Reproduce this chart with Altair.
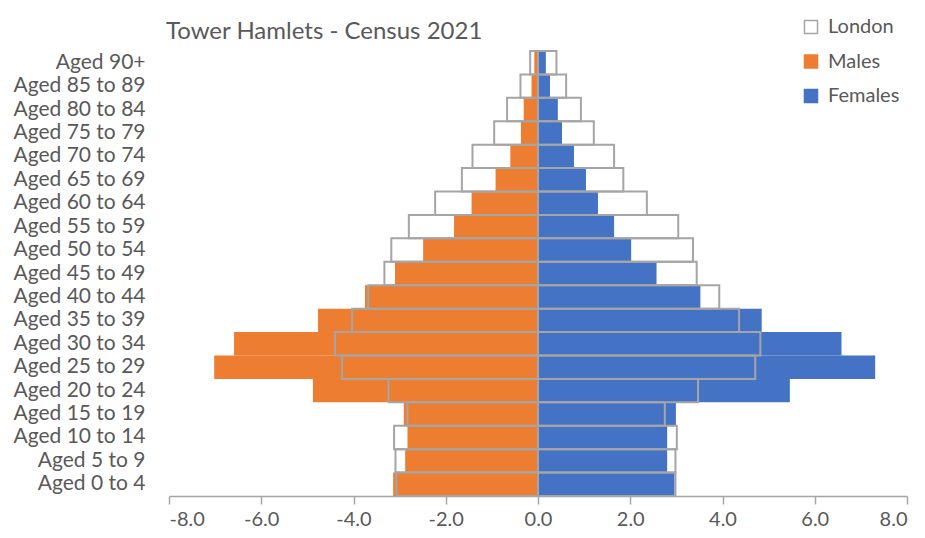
import altair as alt
import pandas as pd

ages = ["Aged 0 to 4", "Aged 5 to 9", "Aged 10 to 14", "Aged 15 to 19", "Aged 20 to 24",
        "Aged 25 to 29", "Aged 30 to 34", "Aged 35 to 39", "Aged 40 to 44", "Aged 45 to 49",
        "Aged 50 to 54", "Aged 55 to 59", "Aged 60 to 64", "Aged 65 to 69", "Aged 70 to 74",
        "Aged 75 to 79", "Aged 80 to 84", "Aged 85 to 89", "Aged 90+"]
males = [3.14, 2.88, 2.83, 2.91, 4.88, 7.02, 6.59, 4.77, 3.75, 3.10, 2.49, 1.82, 1.44, 0.92, 0.60, 0.37, 0.31, 0.14, 0.08]
females = [2.96, 2.80, 2.80, 2.99, 5.46, 7.31, 6.58, 4.85, 3.52, 2.57, 2.02, 1.65, 1.30, 1.04, 0.78, 0.52, 0.43, 0.26, 0.17]
london_m = [3.07, 3.09, 3.12, 2.83, 3.24, 4.25, 4.40, 4.03, 3.68, 3.33, 3.18, 2.80, 2.23, 1.65, 1.42, 0.95, 0.67, 0.38, 0.17]
london_f = [2.98, 2.98, 3.01, 2.75, 3.47, 4.71, 4.82, 4.36, 3.93, 3.44, 3.36, 3.04, 2.36, 1.85, 1.65, 1.21, 0.93, 0.61, 0.40]
series = ["London", "Males", "Females"]
x_ticks = [-8, -6, -4, -2, 0, 2, 4, 6, 8]
title_text = ["Tower Hamlets - Census 2021"]

th_rows, ld_rows = [], []
for a, m, f, lm, lf in zip(ages, males, females, london_m, london_f):
    th_rows.append({"age": a, "series": "Males", "start": -m, "end": 0})
    th_rows.append({"age": a, "series": "Females", "start": 0, "end": f})
    ld_rows.append({"age": a, "series": "London", "start": -lm, "end": 0})
    ld_rows.append({"age": a, "series": "London", "start": 0, "end": lf})
th = pd.DataFrame(th_rows)
ld = pd.DataFrame(ld_rows)

FONT = "Lato"
GREY = "#595959"

fill_scale = alt.Scale(domain=series, range=["#FFFFFF", "#ED7D31", "#4472C4"])
stroke_scale = alt.Scale(domain=series, range=["#A5A5A5", "#ED7D31", "#4472C4"])

x_enc = alt.X("start:Q", scale=alt.Scale(domain=[-8, 8], nice=False),
              axis=alt.Axis(values=x_ticks, title=None, grid=False,
                            labelExpr="datum.value < 0 ? '-' + format(-datum.value, '.1f') : format(datum.value, '.1f')",
                            domainColor="#A5A5A5", domainWidth=1.5, tickColor="#A5A5A5",
                            tickWidth=1.5, tickSize=8, labelPadding=5, labelFontSize=20))
y_enc = alt.Y("age:N", sort=list(reversed(ages)),
              scale=alt.Scale(paddingInner=0, paddingOuter=0),
              axis=alt.Axis(title=None, ticks=False, domain=False, labelPadding=24,
                            labelFontSize=21))
legend = alt.Legend(title=None, orient="none", legendX=632, legendY=-34,
                    symbolType="square", symbolSize=170, symbolStrokeWidth=1.5,
                    rowPadding=14.5, labelOffset=7)

bars = alt.Chart(th).mark_bar(strokeWidth=0).encode(
    x=x_enc, x2="end:Q", y=y_enc,
    fill=alt.Fill("series:N", scale=fill_scale, legend=legend),
    stroke=alt.Stroke("series:N", scale=stroke_scale, legend=legend),
)
london = alt.Chart(ld).mark_bar(fillOpacity=0, strokeWidth=2).encode(
    x=x_enc, x2="end:Q", y=y_enc,
    fill=alt.Fill("series:N", scale=fill_scale, legend=legend),
    stroke=alt.Stroke("series:N", scale=stroke_scale, legend=legend),
)
title = alt.Chart(pd.DataFrame({"t": title_text})).mark_text(
    align="left", baseline="alphabetic", fontSize=24, font=FONT, color=GREY
).encode(text="t:N", x=alt.value(-3), y=alt.value(-12))

chart = alt.layer(bars, london, title).properties(
    width=738, height=445,
    autosize=alt.AutoSizeParams(type="none"),
    padding={"left": 161, "top": 43, "right": 10, "bottom": 34},
).configure_view(stroke=None).configure_axis(
    labelFont=FONT, labelColor=GREY
).configure_legend(
    labelFont=FONT, labelFontSize=20, labelColor=GREY, symbolOpacity=1
)

chart.save("out.html", embed_options={"renderer": "svg", "actions": False})
